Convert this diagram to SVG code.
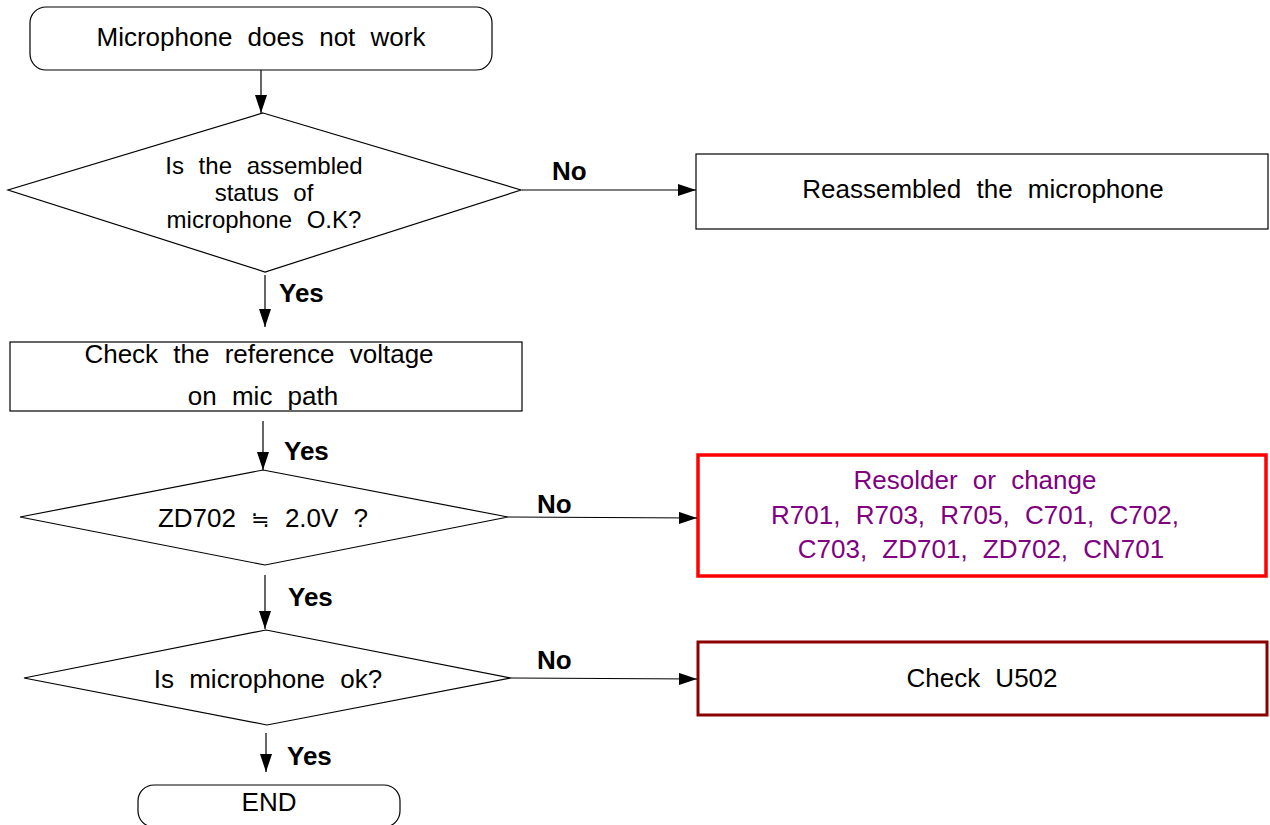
<svg xmlns="http://www.w3.org/2000/svg" width="1270" height="825" viewBox="0 0 1270 825">
<defs>
<marker id="arr" viewBox="0 0 18 12" refX="18" refY="6" markerWidth="18" markerHeight="12" markerUnits="userSpaceOnUse" orient="auto">
<path d="M0,0 L18,6 L0,12 Z" fill="#000"/>
</marker>
</defs>
<style>
text{font-family:"Liberation Sans",Arial,sans-serif;font-size:26px;word-spacing:8px;fill:#000;text-anchor:middle}
.lbl{font-weight:bold;text-anchor:start;word-spacing:0}
.shape{fill:#fff;stroke:#000;stroke-width:1.2}
.conn line{stroke:#000;stroke-width:1.2;marker-end:url(#arr)}
.purple{fill:#800080}
.tight{font-size:24px;word-spacing:8px}
</style>
<rect width="1270" height="825" fill="#fff"/>
<g id="start">
<rect class="shape" x="30" y="7" width="462" height="63" rx="16"/>
<text x="261" y="46">Microphone does not work</text>
</g>
<g id="d1">
<polygon class="shape" points="263,113 521,190 265,272 8,190"/>
<text class="tight" x="264" y="174">Is the assembled</text>
<text class="tight" x="264" y="201">status of</text>
<text class="tight" x="264" y="228">microphone O.K?</text>
</g>
<g id="reassemble">
<rect class="shape" x="696" y="154" width="572" height="75"/>
<text x="983" y="198">Reassembled the microphone</text>
</g>
<g id="check">
<rect class="shape" x="10" y="342" width="512" height="69"/>
<text x="259" y="363">Check the reference voltage</text>
<text x="263" y="405">on mic path</text>
</g>
<g id="d2">
<polygon class="shape" points="263,470 508,517 265,565 20,517"/>
<text x="263" y="527">ZD702 <tspan style="font-family:'DejaVu Sans',sans-serif;font-size:22px">≒</tspan> 2.0V ?</text>
</g>
<g id="resolder">
<rect x="698" y="455" width="568" height="121" fill="#fff" stroke="#ff0000" stroke-width="3.5"/>
<text class="purple" x="975" y="489">Resolder or change</text>
<text class="purple" x="975" y="524">R701, R703, R705, C701, C702,</text>
<text class="purple" x="981" y="558">C703, ZD701, ZD702, CN701</text>
</g>
<g id="d3">
<polygon class="shape" points="266,630 511,678 267,725 24,678"/>
<text x="268" y="688">Is microphone ok?</text>
</g>
<g id="u502">
<rect x="698" y="642" width="569" height="73" fill="#fff" stroke="#8b0000" stroke-width="3"/>
<text x="982" y="687">Check U502</text>
</g>
<g id="end">
<rect class="shape" x="138" y="785" width="262" height="42" rx="16"/>
<text x="269" y="811">END</text>
</g>
<g id="connectors" class="conn">
<line x1="261" y1="70" x2="261" y2="113"/>
<line x1="522" y1="190" x2="696" y2="190"/>
<line x1="265" y1="275" x2="265" y2="327"/>
<line x1="263" y1="421" x2="263" y2="470"/>
<line x1="508" y1="517" x2="697" y2="518"/>
<line x1="265" y1="575" x2="265" y2="629"/>
<line x1="511" y1="678" x2="697" y2="679"/>
<line x1="266" y1="733" x2="266" y2="772"/>
</g>
<g id="labels">
<text class="lbl" x="552" y="180">No</text>
<text class="lbl" x="279" y="302">Yes</text>
<text class="lbl" x="284" y="460">Yes</text>
<text class="lbl" x="537" y="513">No</text>
<text class="lbl" x="288" y="606">Yes</text>
<text class="lbl" x="537" y="669">No</text>
<text class="lbl" x="287" y="765">Yes</text>
</g>
</svg>
